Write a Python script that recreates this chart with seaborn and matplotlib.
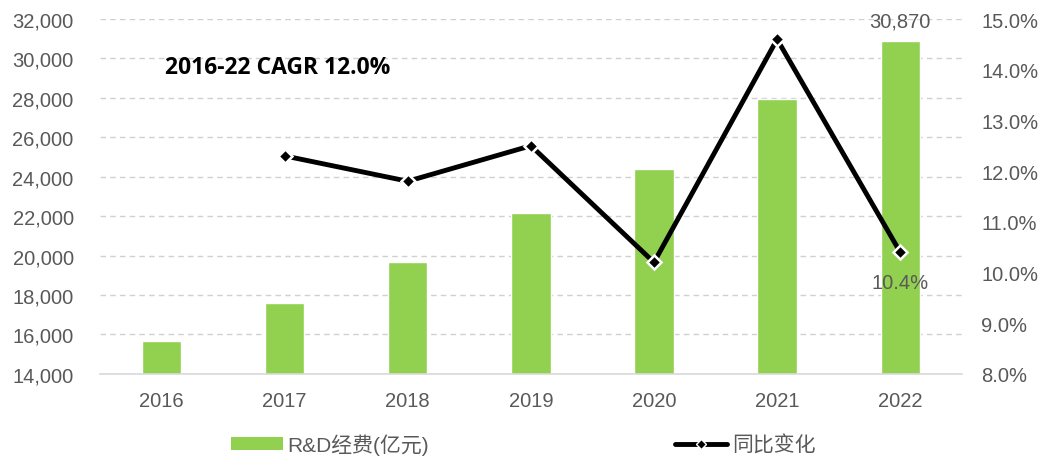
import numpy as np
import pandas as pd
import matplotlib
matplotlib.use("Agg")
import matplotlib.pyplot as plt
import seaborn as sns
from matplotlib.lines import Line2D
from matplotlib.patches import Patch
from matplotlib.ticker import FuncFormatter, MultipleLocator

years = ["2016", "2017", "2018", "2019", "2020", "2021", "2022"]
rd_spend = [15677, 17606, 19678, 22144, 24393, 27956, 30870]
yoy_years = ["2017", "2018", "2019", "2020", "2021", "2022"]
yoy_pct = [12.3, 11.8, 12.5, 10.2, 14.6, 10.4]
bar_label = "R&D经费(亿元)"
line_label = "同比变化"
cagr_text = "2016-22 CAGR 12.0%"

sns.set_style("white")
plt.rcParams["font.family"] = ["Liberation Sans", "Noto Sans CJK SC", "DejaVu Sans"]

gray = "#595959"
green = "#92d050"
fs = 14.5

fig = plt.figure(figsize=(10.42, 4.6), dpi=100)
ax = fig.add_axes([0.096, 0.185, 0.827, 0.7715])

df_bar = pd.DataFrame({"year": years, "value": rd_spend})
sns.barplot(data=df_bar, x="year", y="value", color=green, width=0.32,
            saturation=1, ax=ax, zorder=2)
ax.set_ylim(14000, 32000)
ax.yaxis.set_major_locator(MultipleLocator(2000))
ax.yaxis.set_major_formatter(FuncFormatter(lambda v, p: f"{int(v):,}"))
ax.set_xlim(-0.5, len(years) - 0.5)
ax.grid(axis="y", color="#d0d0d0", linestyle=(0, (4, 3)), linewidth=1, zorder=0)
ax.set_axisbelow(True)
for s in ["top", "right", "left"]:
    ax.spines[s].set_visible(False)
ax.spines["bottom"].set_color("#d9d9d9")
ax.spines["bottom"].set_linewidth(1.2)
ax.set_xlabel("")
ax.set_ylabel("")
ax.tick_params(axis="both", length=0, labelsize=fs, colors=gray)
ax.tick_params(axis="x", pad=12)
ax.tick_params(axis="y", pad=19)

ax2 = ax.twinx()
pos = [years.index(y) for y in yoy_years]
df_line = pd.DataFrame({"x": pos, "yoy": yoy_pct})
sns.lineplot(data=df_line, x="x", y="yoy", color="black", linewidth=3.5,
             marker="D", markersize=7.5, markerfacecolor="black",
             markeredgecolor="white", markeredgewidth=1.8, ax=ax2, zorder=3)
ax2.set_ylim(8, 15)
ax2.yaxis.set_major_locator(MultipleLocator(1))
ax2.yaxis.set_major_formatter(FuncFormatter(lambda v, p: f"{v:.1f}%"))
for s in ["top", "right", "left", "bottom"]:
    ax2.spines[s].set_visible(False)
ax2.set_ylabel("")
ax2.set_xlabel("")
ax2.tick_params(axis="y", length=0, labelsize=fs, colors=gray, pad=14)
ax2.set_xlim(-0.5, len(years) - 0.5)

# annotations
ax.annotate(f"{rd_spend[-1]:,}", xy=(len(years) - 1, rd_spend[-1]), xytext=(0, 8),
            textcoords="offset points", ha="center", va="bottom", fontsize=fs, color=gray)
ax2.annotate(f"{yoy_pct[-1]:.1f}%", xy=(pos[-1], yoy_pct[-1]), xytext=(0, -15),
             textcoords="offset points", ha="center", va="top", fontsize=fs, color=gray)
ax.text(0.075, 0.865, cagr_text, transform=ax.transAxes, fontsize=16.5,
        fontweight="bold", family=["Open Sans", "DejaVu Sans"], color="black",
        va="center", ha="left")

handles = [Patch(facecolor=green, edgecolor="none"),
           Line2D([0], [0], color="black", linewidth=3.5, marker="D", markersize=5,
                  markerfacecolor="black", markeredgecolor="white", markeredgewidth=1)]
fig.legend(handles, [bar_label, line_label], loc="center", bbox_to_anchor=(0.502, 0.033),
           ncol=2, frameon=False, fontsize=15, labelcolor=gray, handlelength=2.5,
           handleheight=0.6, handletextpad=0.24, columnspacing=11.8)

fig.savefig("out.png", dpi=100)
